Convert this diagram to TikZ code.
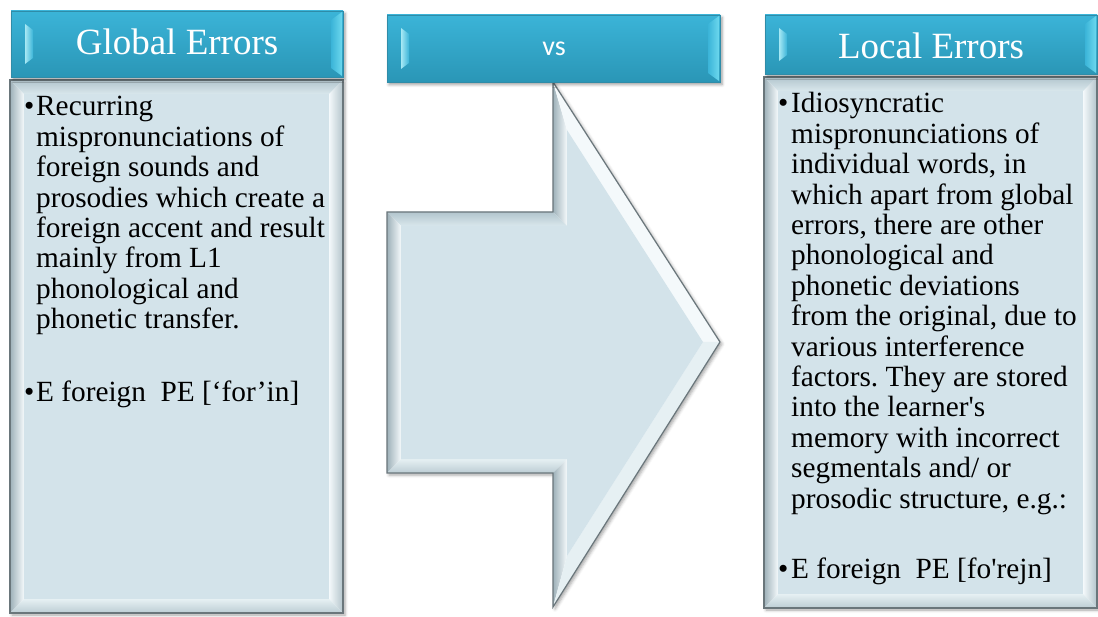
\documentclass[tikz,border=0pt]{standalone}
\usepackage{fontspec}
\setmainfont{Liberation Serif}
\newfontfamily\vsfont{Carlito}
\usetikzlibrary{shadows.blur}
\frenchspacing
\definecolor{hdtop}{HTML}{3BB4D8}
\definecolor{hdbot}{HTML}{2A96B6}
\definecolor{hdborder}{HTML}{2F8CA8}
\definecolor{hdlbev}{HTML}{A6E8F4}
\definecolor{hdrbev}{HTML}{6CD8EE}
\definecolor{bodyfill}{HTML}{D3E3EA}
\definecolor{bvgrey}{HTML}{9EB1B9}
\definecolor{bvwhite}{HTML}{F4F9FB}
\definecolor{bvgreyr}{HTML}{B3C4CB}
\definecolor{bvtop}{HTML}{B2C5CD}
\definecolor{bvtopin}{HTML}{D9E7EC}
\definecolor{bvbotin}{HTML}{E6F0F3}
\definecolor{bvbot}{HTML}{BCCDD4}
\definecolor{bordercol}{HTML}{6A767B}
\newcommand\bevelbody[4]{%
  \fill[white, blur shadow={shadow xshift=2pt,shadow yshift=-2pt,shadow opacity=35,shadow blur radius=3pt}] (#1,#2) rectangle (#3,#4);
  \shade[left color=bvgrey, right color=bvwhite] (#1,#2) -- (#1+14,#2+14) -- (#1+14,#4-14) -- (#1,#4) -- cycle;
  \shade[left color=bvwhite, right color=bvgreyr] (#3,#2) -- (#3-14,#2+14) -- (#3-14,#4-14) -- (#3,#4) -- cycle;
  \shade[top color=bvtop, bottom color=bvtopin] (#1,#2) -- (#3,#2) -- (#3-14,#2+14) -- (#1+14,#2+14) -- cycle;
  \shade[top color=bvbotin, bottom color=bvbot] (#1,#4) -- (#3,#4) -- (#3-14,#4-14) -- (#1+14,#4-14) -- cycle;
  \fill[bodyfill] (#1+14,#2+14) rectangle (#3-14,#4-14);
  \draw[bordercol, line width=1.2pt] (#1,#2) rectangle (#3,#4);
}
\newcommand\bevelheader[4]{%
  \fill[hdbot, blur shadow={shadow xshift=2pt,shadow yshift=-2.5pt,shadow opacity=40,shadow blur radius=3pt}] (#1,#2) rectangle (#3,#4);
  \shade[top color=hdtop, bottom color=hdbot] (#1,#2) rectangle (#3,#4);
  \shade[left color=hdlbev, right color=hdtop] (#1+14,#2+13) -- (#1+22,#2+19) -- (#1+22,#4-19) -- (#1+14,#4-13) -- cycle;
  \shade[left color=hdtop, right color=hdrbev] (#3-12,#2+9) -- (#3-1,#2+1) -- (#3-1,#4-1) -- (#3-12,#4-9) -- cycle;
  \draw[hdborder, line width=0.8pt] (#1,#2) rectangle (#3,#4);
}
\newcommand\bodytext[1]{\parbox[t]{320pt}{\fontsize{29.3}{30.4}\selectfont\raggedright\frenchspacing #1}}
\tikzset{
  title/.style={text=white, font=\fontsize{37}{40}\selectfont, anchor=base, inner sep=0pt},
  body/.style={text=black, anchor=base west, inner sep=0pt},
  bul/.style={text=black, font=\fontsize{29.3}{30.4}\selectfont, anchor=base west, inner sep=0pt},
}
\begin{document}
\begin{tikzpicture}[x=1pt,y=-1pt]
\useasboundingbox (0,0) rectangle (1098,617);
% left column
\bevelbody{10}{80}{343}{613}
\bevelheader{11}{11}{343}{77}
\node[title] (t1) at (177,55) {Global Errors};
\node[bul] (b1) at (24,116) {•};
\node[body] (x1) at (36,116) {\bodytext{Recurring\\mispronunciations of\\foreign sounds and\\prosodies which create a\\foreign accent and result\\mainly from L1\\phonological and\\phonetic transfer.}};
\node[bul] (b2) at (24,402) {•};
\node[body] (x2) at (36,402) {\bodytext{E foreign\ \ PE [‘for’in]}};
% middle arrow
\fill[white, blur shadow={shadow xshift=2pt,shadow yshift=-2pt,shadow opacity=35,shadow blur radius=3pt}]
  (553,82) -- (720,342) -- (553,607) -- (553,473) -- (387,473) -- (387,212) -- (553,212) -- cycle;
\shade[left color=bvgrey, right color=bvwhite] (553,82) -- (567,130) -- (567,226) -- (553,212) -- cycle;
\shade[top color=bvtop, bottom color=bvtopin] (553,212) -- (567,226) -- (401,226) -- (387,212) -- cycle;
\shade[left color=bvgrey, right color=bvwhite] (387,212) -- (401,226) -- (401,459) -- (387,473) -- cycle;
\shade[top color=bvbotin, bottom color=bvbot] (387,473) -- (401,459) -- (567,459) -- (553,473) -- cycle;
\shade[left color=bvgrey, right color=bvwhite] (553,473) -- (567,459) -- (567,556) -- (553,607) -- cycle;
\fill[bvwhite] (553,82) -- (720,342) -- (703,342) -- (567,130) -- cycle;
\fill[bvbotin] (720,342) -- (553,607) -- (567,556) -- (703,342) -- cycle;
\fill[bodyfill] (567,130) -- (703,342) -- (567,556) -- (567,459) -- (401,459) -- (401,226) -- (567,226) -- cycle;
\draw[bordercol, line width=1.2pt, line join=miter]
  (553,82) -- (720,342) -- (553,607) -- (553,473) -- (387,473) -- (387,212) -- (553,212) -- cycle;
\bevelheader{387}{15}{720}{82}
\node[title, font=\vsfont\fontsize{28}{30}\selectfont] (t2) at (554,56) {vs};
% right column
\bevelbody{764}{77}{1097}{608}
\bevelheader{765}{15}{1097}{74}
\node[title] (t3) at (931,59) {Local Errors};
\node[bul] (b3) at (778,113) {•};
\node[body] (x3) at (791,113) {\bodytext{Idiosyncratic\\mispronunciations of\\individual words, in\\which apart from global\\errors, there are other\\phonological and\\phonetic deviations\\from the original, due to\\various interference\\factors. They are stored\\into the learner\textquotesingle s\\memory with incorrect\\segmentals and/ or\\prosodic structure, e.g.:}};
\node[bul] (b4) at (778,578) {•};
\node[body] (x4) at (791,578) {\bodytext{E foreign\ \ PE [fo\textquotesingle rejn]}};
\end{tikzpicture}
\end{document}
